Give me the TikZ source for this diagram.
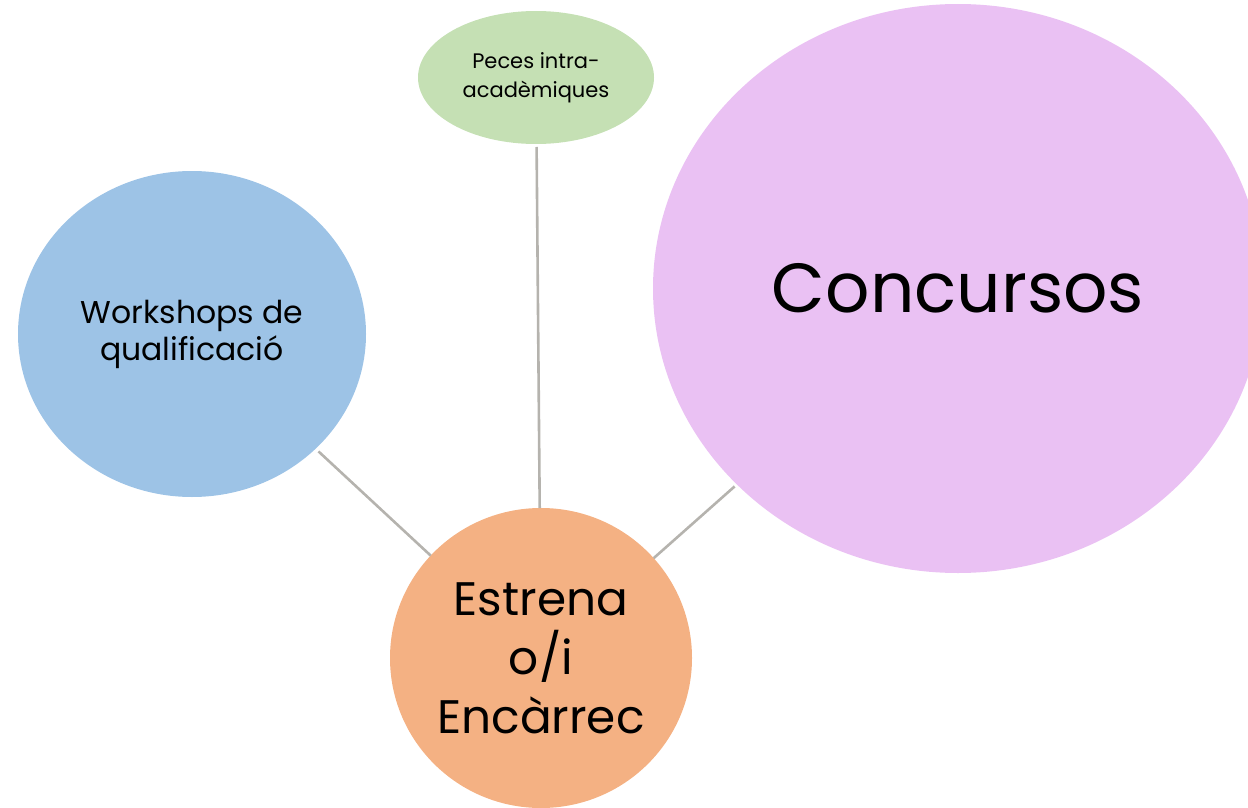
\documentclass[tikz,border=0pt]{standalone}
\usepackage{fontspec}
\setmainfont{Poppins}
\usetikzlibrary{shapes.geometric}
\definecolor{cblue}{HTML}{9DC3E6}
\definecolor{cgreen}{HTML}{C5E0B4}
\definecolor{cpink}{HTML}{EAC1F3}
\definecolor{corange}{HTML}{F4B183}
\definecolor{cline}{HTML}{B5B3AE}
\tikzset{
  bubble/.style={ellipse, inner sep=0pt, outer sep=0pt, align=center, text=black},
  link/.style={draw=cline, line width=2.6pt}
}
\begin{document}
\begin{tikzpicture}[x=1pt,y=-1pt]
\useasboundingbox (0,0) rectangle (1248,808);
\clip (0,0) rectangle (1248,808);
\node[bubble, fill=cblue, minimum width=348pt, minimum height=326pt,
  font=\fontsize{31.5}{37}\selectfont] (work) at (192,334) {Workshops de\\qualificació};
\node[bubble, fill=cgreen, minimum width=236pt, minimum height=133pt,
  font=\fontsize{21}{29}\selectfont] (peces) at (536,77.5) {Peces intra-\\acadèmiques};
\node[bubble, fill=cpink, minimum width=610pt, minimum height=569pt,
  font=\fontsize{69.5}{90}\selectfont] (conc) at (958,288.5) {Concursos};
\node[bubble, fill=corange, minimum width=302pt, minimum height=300pt,
  font=\fontsize{47}{59}\selectfont] (estr) at (541,658) {Estrena\\o/i\\Encàrrec};
\draw[link, shorten <=4pt] (work) -- (estr);
\draw[link, shorten <=3pt] (peces) -- (estr);
\draw[link, shorten <=3pt] (conc) -- (estr);
\end{tikzpicture}
\end{document}
